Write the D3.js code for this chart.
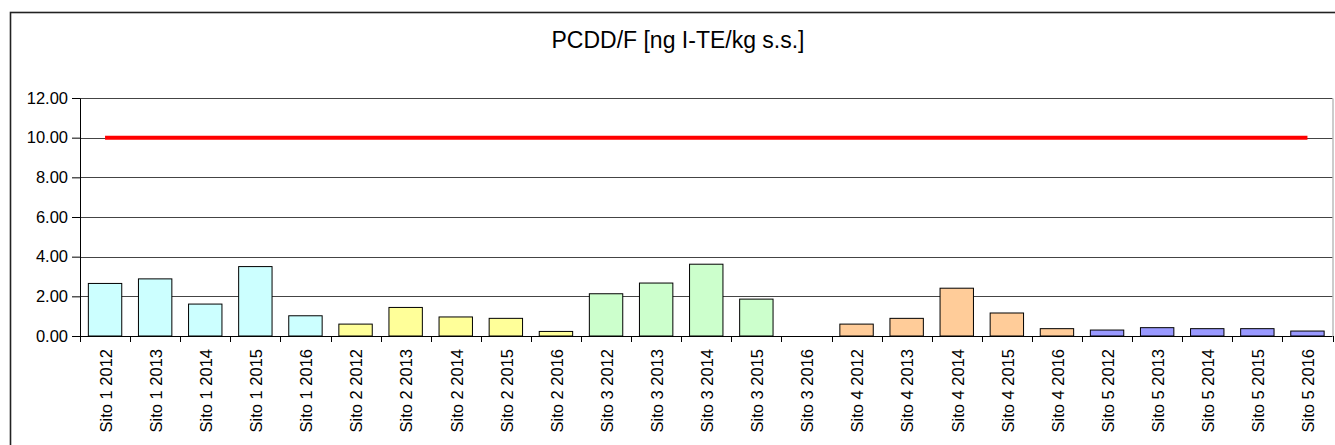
<!DOCTYPE html>
<html>
<head>
<meta charset="utf-8">
<script src="https://cdn.jsdelivr.net/npm/d3@7/dist/d3.min.js"></script>
<style>
  html, body { margin: 0; padding: 0; background: #fff; }
  svg { display: block; font-family: "Liberation Sans", Arial, sans-serif; }
</style>
</head>
<body>
<div id="chart"></div>
<script>
// site-year categories
const sites = ["Sito 1", "Sito 2", "Sito 3", "Sito 4", "Sito 5"];
const years = ["2012", "2013", "2014", "2015", "2016"];
const categories = ["Sito 1 2012", "Sito 1 2013", "Sito 1 2014", "Sito 1 2015", "Sito 1 2016",
  "Sito 2 2012", "Sito 2 2013", "Sito 2 2014", "Sito 2 2015", "Sito 2 2016",
  "Sito 3 2012", "Sito 3 2013", "Sito 3 2014", "Sito 3 2015", "Sito 3 2016",
  "Sito 4 2012", "Sito 4 2013", "Sito 4 2014", "Sito 4 2015", "Sito 4 2016",
  "Sito 5 2012", "Sito 5 2013", "Sito 5 2014", "Sito 5 2015", "Sito 5 2016"];
const values = [2.65, 2.88, 1.61, 3.50, 1.02,
  0.60, 1.44, 0.96, 0.89, 0.23,
  2.13, 2.67, 3.62, 1.86, 0,
  0.60, 0.89, 2.41, 1.16, 0.37,
  0.30, 0.42, 0.37, 0.37, 0.25];
const limitValues = categories.map(() => 10); // limit line, 10 for every category
const siteColors = ["#ccffff", "#ffff99", "#ccffcc", "#ffcc99", "#9999ff"];
const yTicks = [0, 2, 4, 6, 8, 10, 12];
const title = "PCDD/F [ng I-TE/kg s.s.]";

const W = 1335, H = 445;
const margin = { top: 98, right: 2.5, bottom: 109, left: 80 };
const width = W - margin.left - margin.right;
const height = H - margin.top - margin.bottom;

const svg = d3.select("#chart").append("svg")
  .attr("width", W).attr("height", H);

// outer chart frame (runs off the right and bottom edges)
svg.append("rect")
  .attr("x", 10.5).attr("y", 12.5)
  .attr("width", 1400).attr("height", 500)
  .attr("fill", "none").attr("stroke", "#222").attr("stroke-width", 1.6);

svg.append("text")
  .attr("x", 678).attr("y", 48)
  .attr("text-anchor", "middle")
  .attr("font-size", "23px")
  .attr("fill", "#000")
  .text(title);

const g = svg.append("g").attr("transform", `translate(${margin.left},${margin.top})`);

const x = d3.scaleBand().domain(categories).range([0, width]).paddingInner(1 / 3).paddingOuter(1 / 6);
const xOuter = d3.scaleBand().domain(categories).range([0, width]);
const y = d3.scaleLinear().domain([0, 12]).range([height, 0]);

// gridlines
g.append("g").selectAll("line")
  .data(yTicks.filter(d => d > 0))
  .join("line")
  .attr("x1", 0).attr("x2", width)
  .attr("y1", d => Math.round(y(d)) + 0.5).attr("y2", d => Math.round(y(d)) + 0.5)
  .attr("stroke", "#444").attr("stroke-width", 1);

// plot area right border
g.append("line")
  .attr("x1", width + 0.5).attr("x2", width + 0.5)
  .attr("y1", Math.round(y(12)) + 0.5).attr("y2", height)
  .attr("stroke", "#999");

// bars
g.append("g").selectAll("rect")
  .data(categories)
  .join("rect")
  .attr("x", d => x(d))
  .attr("width", x.bandwidth())
  .attr("y", (d, i) => y(values[i]))
  .attr("height", (d, i) => y(0) - y(values[i]))
  .attr("fill", (d, i) => siteColors[sites.indexOf(d.slice(0, 6))])
  .attr("stroke", "#000")
  .attr("stroke-width", 1)
  .style("display", (d, i) => values[i] > 0 ? null : "none");

// limit line
const line = d3.line()
  .x((d, i) => xOuter(categories[i]) + xOuter.bandwidth() / 2)
  .y(d => y(d));
g.append("path")
  .datum(limitValues)
  .attr("fill", "none")
  .attr("stroke", "#ff0000")
  .attr("stroke-width", 4)
  .attr("d", line);

// y axis
const yAxis = g.append("g")
  .call(d3.axisLeft(y).tickValues(yTicks).tickSize(8).tickSizeOuter(0).tickPadding(4).tickFormat(d3.format(".2f")));
yAxis.select(".domain").attr("stroke", "#000");
yAxis.selectAll(".tick line").attr("stroke", "#000");
yAxis.selectAll("text").attr("font-size", "16.5px").attr("fill", "#000")
  .attr("font-family", "'Liberation Sans', Arial, sans-serif");

// x axis: ticks at category boundaries
const xa = g.append("g").attr("transform", `translate(0,${height})`);
xa.append("line").attr("x1", 0).attr("x2", width).attr("y1", 0.5).attr("y2", 0.5).attr("stroke", "#000");
xa.selectAll(".bt")
  .data(categories.concat(["end"]))
  .join("line")
  .attr("class", "bt")
  .attr("x1", (d, i) => Math.round(i * xOuter.bandwidth()) + 0.5)
  .attr("x2", (d, i) => Math.round(i * xOuter.bandwidth()) + 0.5)
  .attr("y1", 0).attr("y2", 6)
  .attr("stroke", "#000");
xa.selectAll("text")
  .data(categories)
  .join("text")
  .attr("transform", d => `translate(${xOuter(d) + xOuter.bandwidth() / 2 + 1},13) rotate(-90)`)
  .attr("text-anchor", "end")
  .attr("dy", "0.35em")
  .attr("font-size", "16.5px")
  .attr("fill", "#000")
  .text(d => d);
</script>
</body>
</html>
